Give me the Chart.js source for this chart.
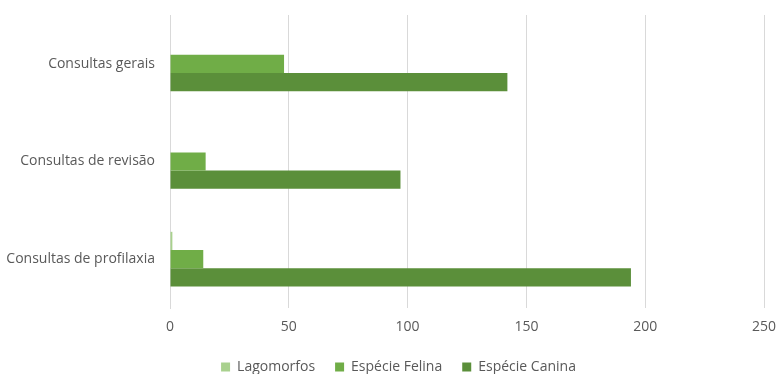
<!DOCTYPE html>
<html>
<head>
<meta charset="utf-8">
<script src="https://cdn.jsdelivr.net/npm/chart.js@4.4.1/dist/chart.umd.min.js"></script>
<style>
  html, body { margin: 0; padding: 0; background: #ffffff; }
  #wrap { width: 777px; height: 374px; }
</style>
</head>
<body>
<div id="wrap"><canvas id="consultas-chart"></canvas></div>
<script>
var categorias = ["Consultas gerais", "Consultas de revisão", "Consultas de profilaxia"];
var lagomorfos = [0, 0, 1];
var felina = [48, 15, 14];
var canina = [142, 97, 194];
var ticksX = [0, 50, 100, 150, 200, 250];

Chart.defaults.font.family = "'Open Sans', 'Liberation Sans', sans-serif";
Chart.defaults.font.size = 14;
Chart.defaults.color = "#595959";

// short legend strip, nudged a little right of the canvas centre
var legendBox = {
    id: "legendBox",
    beforeInit: function (chart) {
        var fit = chart.legend.fit;
        chart.legend.fit = function () {
            fit.bind(chart.legend)();
            this.height = 34;
        };
    },
    afterLayout: function (chart) {
        chart.legend.left += 10;
        chart.legend.right += 10;
    }
};

new Chart(document.getElementById("consultas-chart"), {
    type: "bar",
    data: {
        labels: categorias,
        datasets: [{
            label: "Lagomorfos",
            data: lagomorfos,
            backgroundColor: "#a9d18e"
        },
        {
            label: "Espécie Felina",
            data: felina,
            backgroundColor: "#70ad47"
        },
        {
            label: "Espécie Canina",
            data: canina,
            backgroundColor: "#5b8f3a"
        }]
    },
    options: {
        indexAxis: "y",
        responsive: true,
        maintainAspectRatio: false,
        animation: false,
        layout: { padding: { top: 15, right: 0, bottom: 0, left: 0 } },
        datasets: {
            bar: { categoryPercentage: 0.56, barPercentage: 1.0 }
        },
        scales: {
            x: {
                min: ticksX[0],
                max: ticksX[ticksX.length - 1],
                afterBuildTicks: function (scale) {
                    scale.ticks = ticksX.map(function (v) { return { value: v }; });
                },
                afterFit: function (scale) {
                    scale.paddingRight = 13;
                    scale.paddingLeft = 0;
                    scale.height = 32;
                },
                grid: { color: "#d9d9d9", drawTicks: false },
                border: { display: false },
                ticks: { padding: 11 }
            },
            y: {
                afterFit: function (scale) {
                    scale.width = 170;
                    scale.paddingTop = 0;
                    scale.paddingBottom = 0;
                },
                grid: { display: false, drawTicks: false },
                border: { display: true, color: "#d9d9d9" },
                ticks: { padding: 15 }
            }
        },
        plugins: {
            legend: {
                position: "bottom",
                labels: { boxWidth: 9, boxHeight: 9, padding: 20 }
            },
            tooltip: { enabled: false }
        }
    },
    plugins: [legendBox]
});
</script>
</body>
</html>
